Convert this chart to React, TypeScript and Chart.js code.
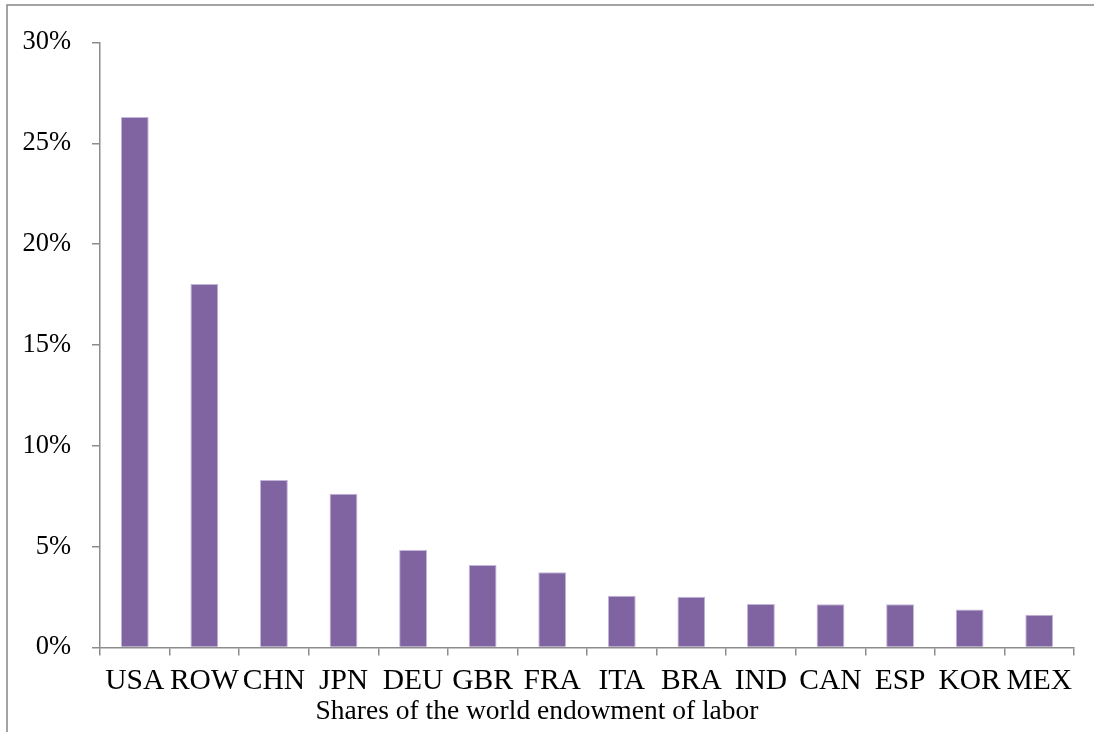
import React, { useEffect, useRef } from "react";
import { Chart, registerables } from "chart.js";

Chart.register(...registerables);

const categories = ["USA", "ROW", "CHN", "JPN", "DEU", "GBR", "FRA", "ITA", "BRA", "IND", "CAN", "ESP", "KOR", "MEX"];
const laborShares = [26.3, 18.03, 8.3, 7.62, 4.84, 4.09, 3.73, 2.56, 2.52, 2.16, 2.14, 2.14, 1.88, 1.62];
const yTickValues = [0, 5, 10, 15, 20, 25, 30];
const xAxisTitle = "Shares of the world endowment of labor";

const FONT = "'Liberation Serif', 'Times New Roman', serif";
const AXIS_GRAY = "#8c8c8c";

const framePlugin = {
  id: "frame",
  beforeDraw(chart: any) {
    const ctx = chart.ctx;
    ctx.save();
    ctx.strokeStyle = "#868686";
    ctx.lineWidth = 1.5;
    ctx.beginPath();
    ctx.moveTo(7, chart.height);
    ctx.lineTo(7, 5);
    ctx.lineTo(chart.width, 5);
    ctx.stroke();
    ctx.restore();
  },
};

export default function App() {
  const ref = useRef<HTMLCanvasElement | null>(null);

  useEffect(() => {
    document.body.style.margin = "0";
    const canvas = ref.current;
    if (!canvas) return;
    const chart = new Chart(canvas, {
      type: "bar",
      data: {
        labels: categories,
        datasets: [
          {
            data: laborShares,
            backgroundColor: "#8064A2",
            borderColor: "#c3b6d8",
            borderWidth: 1,
            barPercentage: 0.4,
            categoryPercentage: 1,
          },
        ],
      },
      options: {
        animation: false,
        responsive: false,
        maintainAspectRatio: false,
        layout: { padding: { left: 0, right: 20, top: 42.5, bottom: 0 } },
        plugins: {
          legend: { display: false },
          tooltip: { enabled: false },
          title: {
            display: true,
            position: "bottom",
            text: xAxisTitle,
            color: "#000",
            font: { family: FONT, size: 27.5, weight: "normal", lineHeight: 1.2 },
            padding: { top: 0, bottom: 4 },
          },
        },
        scales: {
          x: {
            grid: {
              offset: true,
              drawOnChartArea: false,
              drawTicks: true,
              tickLength: 8,
              color: AXIS_GRAY,
              lineWidth: 1.5,
            },
            border: { color: AXIS_GRAY, width: 1.5 },
            ticks: {
              color: "#000",
              font: { family: FONT, size: 29.5 },
              padding: 8.5,
              maxRotation: 0,
              autoSkip: false,
            },
            afterFit(scale: any) {
              scale.height = 47.5;
            },
          },
          y: {
            min: 0,
            max: 30,
            afterBuildTicks(scale: any) {
              scale.ticks = yTickValues.map((v) => ({ value: v }));
            },
            grid: {
              drawOnChartArea: false,
              drawTicks: true,
              tickLength: 8,
              color: AXIS_GRAY,
              lineWidth: 1.5,
            },
            border: { color: AXIS_GRAY, width: 1.5 },
            ticks: {
              color: "#000",
              font: { family: FONT, size: 26.5 },
              padding: 21,
              callback: (v: any) => `${v}%`,
            },
            afterFit(scale: any) {
              scale.width = 100;
            },
          },
        },
      },
      plugins: [framePlugin],
    });
    return () => chart.destroy();
  }, []);

  return (
    <div style={{ position: "absolute", left: 0, top: 0, width: 1094, height: 732, background: "#fff" }}>
      <canvas ref={ref} width={1094} height={732} style={{ display: "block" }} />
    </div>
  );
}
